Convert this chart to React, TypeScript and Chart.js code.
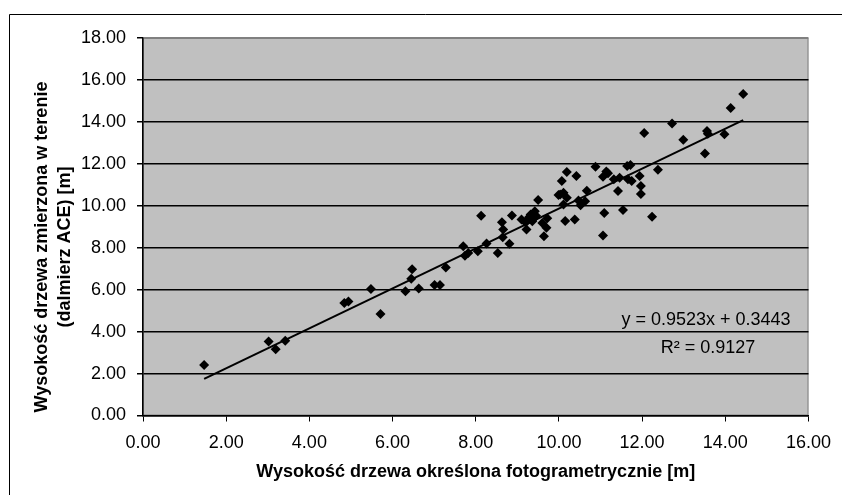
import React, { useEffect, useRef } from "react";
import { Chart, registerables } from "chart.js";

Chart.register(...registerables);

// Measured heights: photogrammetric (x) vs field measurement (y), metres
const photoHeights = [
  1.47, 3.02, 3.19, 3.42, 4.84, 4.94, 5.48, 5.71, 6.31, 6.45,
  6.47, 6.63, 7.01, 7.14, 7.28, 7.70, 7.74, 7.82, 8.05, 8.13,
  8.26, 8.53, 8.63, 8.66, 8.65, 8.81, 8.87, 9.10, 9.22, 9.20,
  9.28, 9.32, 9.36, 9.42, 9.40, 9.45, 9.50, 9.60, 9.64, 9.72,
  9.70, 9.99, 10.03, 10.11, 10.19, 10.11, 10.07, 10.19, 10.15, 10.38,
  10.42, 10.47, 10.52, 10.63, 10.67, 10.88, 11.09, 11.06, 11.06, 11.14,
  11.18, 11.32, 11.42, 11.46, 11.54, 11.64, 11.72, 11.66, 11.75, 11.94,
  11.97, 11.97, 12.05, 12.24, 12.38, 12.72, 12.99, 13.51, 13.56, 13.58,
  13.98, 14.13, 14.43,
];
const fieldHeights = [
  2.41, 3.53, 3.16, 3.56, 5.36, 5.43, 6.03, 4.84, 5.92, 6.52,
  6.97, 6.05, 6.22, 6.22, 7.06, 8.07, 7.62, 7.75, 7.83, 9.52,
  8.20, 7.75, 9.22, 8.87, 8.50, 8.19, 9.54, 9.35, 8.87, 9.20,
  9.45, 9.58, 9.26, 9.74, 9.40, 9.52, 10.27, 9.18, 8.55, 9.40,
  8.95, 10.51, 10.54, 10.62, 10.38, 10.06, 11.18, 11.61, 9.28, 9.35,
  11.42, 10.25, 10.02, 10.22, 10.72, 11.86, 9.66, 8.58, 11.38, 11.64,
  11.55, 11.26, 10.70, 11.34, 9.80, 11.90, 11.95, 11.26, 11.18, 11.42,
  10.94, 10.56, 13.47, 9.48, 11.72, 13.92, 13.15, 12.49, 13.57, 13.44,
  13.41, 14.66, 15.33,
];

// Linear trend (as printed on the chart)
const trendSlope = 0.9523;
const trendIntercept = 0.3443;
const equationLabel = "y = 0.9523x + 0.3443";
const r2Label = "R² = 0.9127";

const xTitle = "Wysokość drzewa określona fotogrametrycznie [m]";
const yTitleLines = ["Wysokość drzewa zmierzona w terenie", "(dalmierz ACE) [m]"];

const xMin = 0, xMax = 16, xStep = 2;
const yMin = 0, yMax = 18, yStep = 2;

const FONT = '"Liberation Sans", Arial, sans-serif';

const decorPlugin = {
  id: "decor",
  beforeDraw(chart: any) {
    const { ctx, chartArea: a } = chart;
    ctx.save();
    ctx.fillStyle = "#ffffff";
    ctx.fillRect(0, 0, chart.width, chart.height);
    ctx.fillStyle = "#C0C0C0";
    ctx.fillRect(a.left, a.top, a.right - a.left, a.bottom - a.top);
    ctx.strokeStyle = "#808080";
    ctx.lineWidth = 1;
    ctx.strokeRect(a.left + 0.5, a.top + 0.5, a.right - a.left - 1, a.bottom - a.top - 1);
    // outer frame
    ctx.strokeStyle = "#000000";
    ctx.lineWidth = 1;
    ctx.beginPath();
    ctx.moveTo(9.5, chart.height);
    ctx.lineTo(9.5, 14.5);
    ctx.lineTo(chart.width, 14.5);
    ctx.stroke();
    ctx.restore();
  },
  afterDraw(chart: any) {
    const { ctx, chartArea: a } = chart;
    ctx.save();
    ctx.fillStyle = "#000000";
    ctx.textAlign = "center";
    ctx.textBaseline = "middle";
    // x axis title
    ctx.font = `bold 18px ${FONT}`;
    ctx.fillText(xTitle, (a.left + a.right) / 2, 472);
    // y axis title (two lines)
    ctx.save();
    ctx.translate(42, 247);
    ctx.rotate(-Math.PI / 2);
    ctx.fillText(yTitleLines[0], 0, 0);
    ctx.fillText(yTitleLines[1], 0, 23);
    ctx.restore();
    // trendline equation
    ctx.font = `18px ${FONT}`;
    ctx.fillText(equationLabel, 706, 320);
    ctx.fillText(r2Label, 708, 348);
    ctx.restore();
  },
};

export default function App() {
  const canvasRef = useRef<HTMLCanvasElement | null>(null);

  useEffect(() => {
    const canvas = canvasRef.current;
    if (!canvas) return;
    const points = photoHeights.map((x, i) => ({ x, y: fieldHeights[i] }));
    const lo = Math.min(...photoHeights);
    const hi = Math.max(...photoHeights);
    const trend = [
      { x: lo, y: trendSlope * lo + trendIntercept },
      { x: hi, y: trendSlope * hi + trendIntercept },
    ];

    const chart = new Chart(canvas, {
      type: "scatter",
      data: {
        datasets: [
          {
            label: "trend",
            data: trend,
            showLine: true,
            borderColor: "#000000",
            borderWidth: 2,
            pointRadius: 0,
            order: 0,
          },
          {
            label: "pomiary",
            data: points,
            pointStyle: "rectRot",
            pointRadius: 5,
            backgroundColor: "#000000",
            borderWidth: 0,
            order: 1,
          },
        ],
      },
      options: {
        responsive: false,
        animation: false,
        events: [],
        layout: { padding: { left: 0, top: 38, right: 26, bottom: 0 } },
        plugins: {
          legend: { display: false },
          tooltip: { enabled: false },
          title: { display: false },
        },
        scales: {
          x: {
            type: "linear",
            min: xMin,
            max: xMax,
            afterFit: (s: any) => { s.height = 79.5; },
            ticks: {
              stepSize: xStep,
              color: "#000000",
              font: { family: FONT, size: 18 },
              padding: 11,
              maxRotation: 0,
              callback: (v: any) => Number(v).toFixed(2),
            },
            grid: {
              drawOnChartArea: false,
              drawTicks: true,
              tickLength: 6,
              tickColor: "#000000",
            },
            border: { color: "#000000", width: 1.5 },
          },
          y: {
            type: "linear",
            min: yMin,
            max: yMax,
            afterFit: (s: any) => { s.width = 143; },
            ticks: {
              stepSize: yStep,
              color: "#000000",
              font: { family: FONT, size: 18 },
              padding: 11,
              callback: (v: any) => Number(v).toFixed(2),
            },
            grid: {
              color: (c: any) => (c.tick && c.tick.value === yMax ? "#808080" : "#000000"),
              lineWidth: 1.5,
              drawTicks: true,
              tickLength: 6,
              tickColor: "#000000",
            },
            border: { color: "#000000", width: 1.5 },
          },
        },
      },
      plugins: [decorPlugin],
    });
    return () => chart.destroy();
  }, []);

  return (
    <div style={{ position: "fixed", left: 0, top: 0, width: 842, height: 495, background: "#fff" }}>
      <canvas ref={canvasRef} width={842} height={495} style={{ display: "block" }} />
    </div>
  );
}
